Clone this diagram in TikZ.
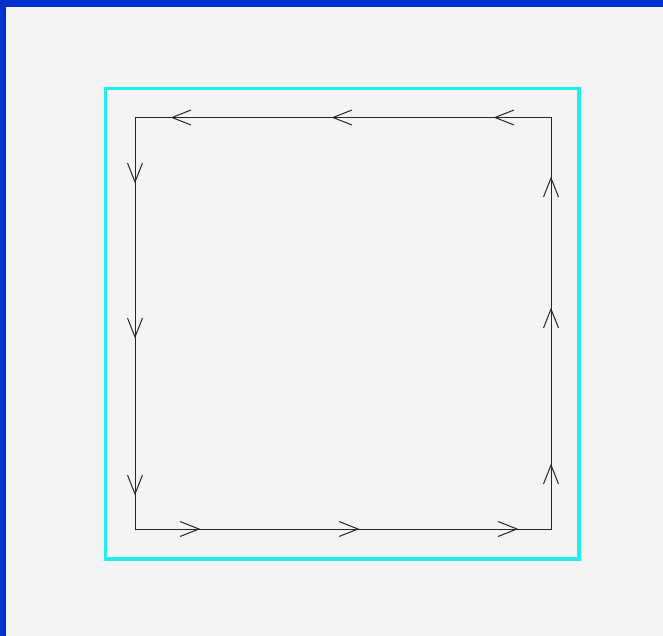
\documentclass[tikz,border=0pt]{standalone}
\definecolor{bgc}{HTML}{F4F4F4}
\definecolor{edgeblue}{HTML}{0033CC}
\definecolor{frame}{HTML}{22EEEE}
\begin{document}
\begin{tikzpicture}[x=1pt,y=-1pt,
  loopline/.style={black!85,line width=1pt},
  vhead/.pic={\draw[black!85,line width=1pt] (-19,-7.5) -- (0,0) -- (-19,7.5);}]
\useasboundingbox (0,0) rectangle (663,636);
\fill[bgc] (0,0) rectangle (663,636);
\fill[edgeblue] (0,0) rectangle (663,7);
\fill[edgeblue] (0,0) rectangle (6,636);
\draw[frame,line width=3.8pt] (105.5,88.5) rectangle (579,559);
\coordinate (tl) at (135,117.5);
\coordinate (tr) at (551,117.5);
\coordinate (br) at (551,529);
\coordinate (bl) at (135,529);
\draw[loopline] (tl) -- (tr) -- (br) -- (bl) -- cycle;
% top: pointing left
\foreach \x in {172,333,495} \pic[rotate=180] at (\x,117.5) {vhead};
% left: pointing down
\foreach \y in {182,337,494} \pic[rotate=-90] at (135,\y) {vhead};
% bottom: pointing right
\foreach \x in {199,358,517} \pic at (\x,529) {vhead};
% right: pointing up
\foreach \y in {178,309,465} \pic[rotate=90] at (551,\y) {vhead};
\end{tikzpicture}
\end{document}
